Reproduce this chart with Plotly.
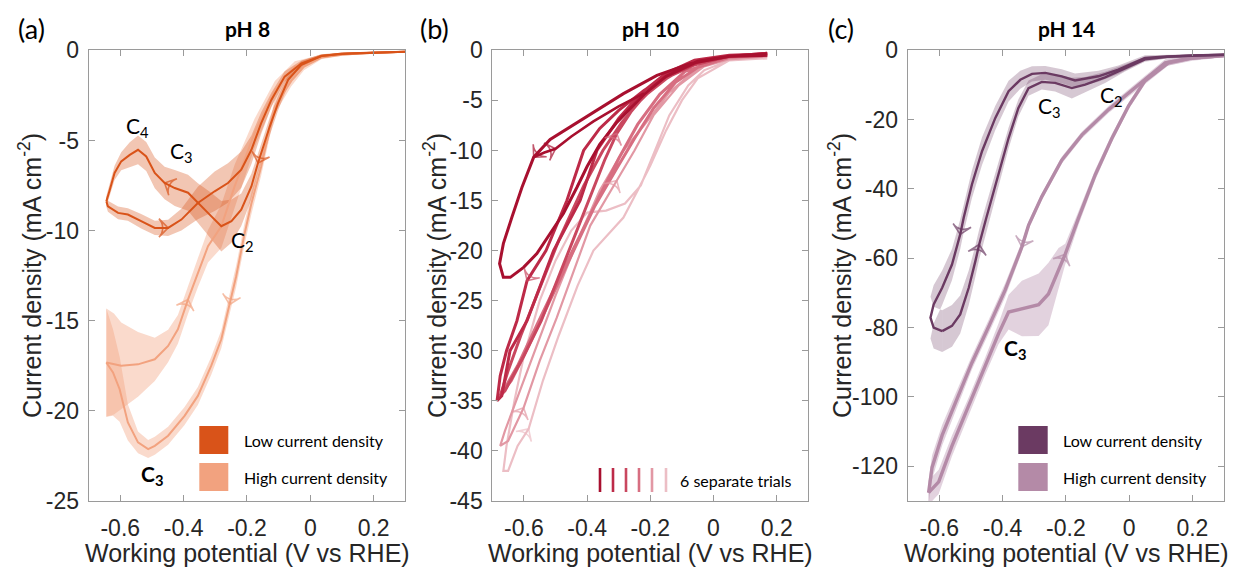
import plotly.graph_objects as go

W, H = 1235, 567

# ---------------- Panel (a) pH 8 ----------------
a_low_fwd_x = [0.30, 0.20, 0.10, 0.035, -0.028, -0.070, -0.102, -0.128, -0.165, -0.186, -0.218, -0.249, -0.281, -0.313, -0.355, -0.386, -0.428, -0.460, -0.491, -0.518, -0.544, -0.570, -0.597, -0.618, -0.633, -0.644]
a_low_fwd_y = [-0.08, -0.12, -0.20, -0.32, -0.80, -1.64, -2.95, -4.23, -6.25, -7.55, -8.84, -9.48, -9.76, -9.20, -8.47, -7.90, -7.64, -7.36, -6.80, -5.89, -5.52, -5.80, -6.16, -6.80, -7.73, -8.38]
a_low_fwd_sd = [0.05, 0.05, 0.05, 0.10, 0.20, 0.30, 0.40, 0.50, 0.60, 0.70, 0.90, 1.20, 1.40, 1.30, 1.10, 1.00, 1.00, 0.90, 0.85, 0.80, 0.80, 0.70, 0.50, 0.40, 0.35, 0.30]
a_low_ret_x = [-0.644, -0.639, -0.607, -0.576, -0.534, -0.491, -0.449, -0.407, -0.355, -0.302, -0.260, -0.218, -0.186, -0.155, -0.123, -0.081, -0.028, 0.035, 0.10, 0.20, 0.30]
a_low_ret_y = [-8.38, -8.65, -9.02, -9.11, -9.48, -9.85, -9.85, -9.39, -8.47, -7.82, -7.36, -6.62, -5.52, -4.04, -2.75, -1.46, -0.72, -0.32, -0.18, -0.12, -0.08]
a_low_ret_sd = [0.30, 0.30, 0.35, 0.35, 0.40, 0.40, 0.45, 0.60, 0.90, 1.10, 1.10, 1.00, 0.80, 0.60, 0.40, 0.30, 0.15, 0.10, 0.05, 0.05, 0.05]

a_high_fwd_x = [0.30, 0.20, 0.10, 0.035, -0.020, -0.060, -0.112, -0.155, -0.186, -0.207, -0.234, -0.255, -0.281, -0.313, -0.355, -0.397, -0.449, -0.491, -0.512, -0.544, -0.576, -0.602, -0.623, -0.644]
a_high_fwd_y = [-0.08, -0.12, -0.25, -0.40, -0.90, -1.70, -3.12, -6.44, -8.50, -10.13, -12.53, -14.10, -16.03, -17.51, -19.17, -20.28, -21.38, -21.94, -22.12, -21.75, -20.64, -18.80, -17.87, -17.32]
a_high_fwd_sd = [0.05, 0.05, 0.05, 0.10, 0.20, 0.30, 0.40, 0.50, 0.60, 0.60, 0.60, 0.50, 0.50, 0.50, 0.50, 0.50, 0.50, 0.50, 0.50, 0.60, 1.00, 1.80, 2.40, 3.00]
a_high_ret_x = [-0.644, -0.620, -0.597, -0.544, -0.491, -0.449, -0.418, -0.386, -0.355, -0.323, -0.281, -0.239, -0.176, -0.112, -0.049, 0.035, 0.10, 0.20, 0.30]
a_high_ret_y = [-17.32, -17.40, -17.50, -17.42, -17.14, -16.40, -15.48, -13.82, -12.34, -10.87, -9.76, -7.55, -4.60, -2.20, -0.91, -0.35, -0.20, -0.12, -0.08]
a_high_ret_sd = [3.0, 2.8, 2.4, 1.8, 1.2, 0.9, 0.8, 0.8, 0.8, 0.9, 1.2, 1.2, 0.8, 0.5, 0.3, 0.1, 0.05, 0.05, 0.05]

# ---------------- Panel (b) pH 10, six trials ----------------
b1_fwd_x = [0.17, 0.05, -0.074, -0.179, -0.285, -0.39, -0.45, -0.517, -0.569, -0.606, -0.638, -0.665, -0.677, -0.665]
b1_fwd_y = [-0.35, -0.6, -1.33, -2.5, -4.33, -6.4, -7.6, -8.9, -10.67, -13.67, -16.67, -19.3, -21.3, -22.67]
b1_ret_x = [-0.665, -0.643, -0.601, -0.559, -0.517, -0.475, -0.432, -0.40, -0.36, -0.306, -0.22, -0.15, -0.05, 0.05, 0.17]
b1_ret_y = [-22.67, -22.67, -21.67, -20.3, -18.3, -16.3, -13.67, -11.6, -9.4, -7.2, -4.4, -2.6, -1.1, -0.6, -0.5]
b1_extra_x = [-0.569, -0.535, -0.50, -0.45, -0.38, -0.30, -0.22]
b1_extra_y = [-10.67, -10.2, -9.83, -8.6, -7.1, -5.6, -4.3]

b2_fwd_x = [0.17, 0.05, -0.05, -0.15, -0.22, -0.30, -0.36, -0.411, -0.464, -0.53, -0.59, -0.622, -0.655, -0.675, -0.685]
b2_fwd_y = [-0.3, -0.6, -1.2, -2.6, -4.0, -6.0, -7.8, -10.0, -15.0, -20.0, -23.0, -27.0, -30.0, -32.5, -35.0]
b2_ret_x = [-0.685, -0.67, -0.644, -0.59, -0.506, -0.422, -0.369, -0.30, -0.23, -0.15, -0.06, 0.05, 0.17]
b2_ret_y = [-35.0, -34.5, -30.0, -27.0, -20.0, -15.0, -10.0, -6.8, -4.3, -2.3, -1.0, -0.5, -0.35]

b3_fwd_x = [0.17, 0.05, -0.05, -0.14, -0.22, -0.29, -0.35, -0.41, -0.49, -0.56, -0.61, -0.65, -0.675]
b3_fwd_y = [-0.3, -0.6, -1.3, -2.6, -4.6, -7.2, -10.0, -13.5, -19.0, -24.5, -28.5, -32.0, -34.5]
b3_ret_x = [-0.675, -0.66, -0.60, -0.545, -0.47, -0.40, -0.345, -0.306, -0.25, -0.18, -0.09, 0.05, 0.17]
b3_ret_y = [-34.5, -34.0, -30.5, -27.0, -21.0, -15.5, -11.0, -8.3, -5.6, -3.4, -1.7, -0.6, -0.45]

b4_fwd_x = [0.17, 0.05, -0.04, -0.12, -0.19, -0.25, -0.31, -0.38, -0.44, -0.50, -0.56, -0.62, -0.665]
b4_fwd_y = [-0.35, -0.7, -1.5, -3.2, -5.8, -8.8, -12.0, -15.8, -19.6, -23.5, -27.5, -31.5, -34.0]
b4_ret_x = [-0.665, -0.64, -0.60, -0.54, -0.48, -0.42, -0.36, -0.30, -0.24, -0.17, -0.09, 0.05, 0.17]
b4_ret_y = [-34.0, -33.0, -30.5, -26.5, -22.5, -18.5, -14.5, -10.8, -7.4, -4.4, -2.1, -0.7, -0.5]

b5_fwd_x = [0.17, 0.05, -0.05, -0.14, -0.22, -0.285, -0.36, -0.43, -0.50, -0.56, -0.62, -0.66, -0.675]
b5_fwd_y = [-0.45, -0.8, -1.8, -4.2, -7.5, -10.0, -14.0, -19.0, -24.5, -29.5, -34.5, -38.0, -39.5]
b5_ret_x = [-0.675, -0.65, -0.601, -0.55, -0.496, -0.443, -0.39, -0.306, -0.25, -0.19, -0.11, -0.03, 0.05, 0.17]
b5_ret_y = [-39.5, -39.0, -35.7, -31.0, -26.7, -22.0, -17.5, -13.0, -10.0, -6.5, -3.5, -1.6, -0.9, -0.6]

b6_fwd_x = [0.17, 0.05, -0.03, -0.08, -0.14, -0.19, -0.23, -0.28, -0.34, -0.40, -0.45, -0.50, -0.55, -0.60, -0.63, -0.655, -0.665]
b6_fwd_y = [-0.7, -1.0, -2.0, -3.5, -6.5, -10.5, -13.5, -15.3, -16.0, -16.2, -18.0, -21.0, -25.0, -30.5, -35.0, -39.5, -42.0]
b6_ret_x = [-0.665, -0.65, -0.62, -0.585, -0.54, -0.49, -0.43, -0.38, -0.33, -0.285, -0.24, -0.20, -0.15, -0.10, -0.05, 0.05, 0.17]
b6_ret_y = [-42.0, -42.0, -39.5, -37.8, -33.0, -28.5, -23.5, -20.0, -18.3, -16.7, -14.0, -11.5, -8.0, -5.0, -2.8, -1.0, -0.8]

# ---------------- Panel (c) pH 14 ----------------
c_low_fwd_x = [0.30, 0.20, 0.12, 0.05, -0.034, -0.097, -0.171, -0.213, -0.265, -0.307, -0.344, -0.381, -0.423, -0.465, -0.497, -0.523, -0.534, -0.560, -0.591, -0.618, -0.628, -0.618, -0.591]
c_low_fwd_y = [-1.3, -1.5, -1.8, -2.2, -5.6, -7.5, -8.7, -7.5, -6.5, -6.8, -8.5, -11.8, -19.5, -29.1, -38.7, -48.3, -53.1, -61.8, -68.5, -73.3, -77.1, -80.0, -81.0]
c_low_fwd_sd = [0.3, 0.4, 0.6, 0.8, 1.2, 1.6, 2.0, 2.0, 2.0, 2.2, 2.6, 3.0, 3.5, 4.0, 4.0, 4.2, 4.3, 4.5, 5.0, 5.5, 6.0, 6.0, 6.0]
c_low_ret_x = [-0.591, -0.560, -0.534, -0.507, -0.486, -0.474, -0.452, -0.413, -0.381, -0.350, -0.318, -0.276, -0.234, -0.181, -0.139, -0.076, -0.013, 0.05, 0.12, 0.20, 0.30]
c_low_ret_y = [-81.0, -79.5, -76.2, -68.5, -60.8, -56.0, -48.5, -35.8, -25.3, -16.6, -10.9, -9.1, -9.4, -10.9, -9.9, -7.8, -5.1, -2.6, -1.9, -1.5, -1.3]
c_low_ret_sd = [6.0, 6.0, 5.5, 5.0, 4.5, 4.3, 4.0, 3.5, 3.0, 2.5, 2.2, 2.2, 2.5, 3.0, 2.2, 1.6, 1.0, 0.7, 0.5, 0.4, 0.3]

c_high_fwd_x = [0.30, 0.20, 0.114, 0.019, -0.065, -0.149, -0.213, -0.276, -0.318, -0.339, -0.392, -0.444, -0.497, -0.549, -0.591, -0.623, -0.634]
c_high_fwd_y = [-1.5, -2.2, -3.6, -10.9, -17.1, -24.4, -31.7, -42.2, -50.5, -56.7, -69.2, -79.7, -90.1, -101.6, -111.0, -120.3, -127.6]
c_high_fwd_sd = [0.5, 0.8, 1.0, 1.0, 1.0, 1.0, 1.0, 1.0, 1.2, 1.5, 2.0, 2.0, 2.0, 2.5, 3.0, 3.5, 3.5]
c_high_ret_x = [-0.634, -0.602, -0.560, -0.507, -0.455, -0.413, -0.381, -0.339, -0.286, -0.255, -0.223, -0.202, -0.160, -0.107, -0.055, -0.002, 0.05, 0.124, 0.20, 0.30]
c_high_ret_y = [-127.6, -124.5, -114.1, -102.6, -91.1, -81.8, -75.5, -74.5, -73.4, -70.3, -63.0, -58.8, -48.4, -35.9, -25.5, -16.1, -8.8, -3.6, -2.2, -1.5]
c_high_ret_sd = [3.5, 3.5, 3.0, 2.5, 2.5, 3.0, 5.0, 8.0, 9.0, 9.0, 6.0, 3.0, 2.0, 1.5, 1.2, 1.0, 1.0, 0.8, 0.6, 0.5]

# ticks
x_tickvals = [-0.6, -0.4, -0.2, 0, 0.2]
x_ticktext = ["-0.6", "-0.4", "-0.2", "0", "0.2"]
ya_tickvals = [0, -5, -10, -15, -20, -25]
yb_tickvals = [0, -5, -10, -15, -20, -25, -30, -35, -40, -45]
yc_tickvals = [0, -20, -40, -60, -80, -100, -120]

# colours
A_LOW, A_HIGH = "#D95319", "#F2A27F"
A_LOW_BAND, A_HIGH_BAND = "rgba(217,83,25,0.33)", "rgba(242,162,127,0.40)"
C_LOW, C_HIGH = "#6B3A62", "#B48AA7"
C_LOW_BAND, C_HIGH_BAND = "rgba(107,58,98,0.28)", "rgba(180,138,167,0.38)"
B_COLORS = ["#A8102F", "#BD2A48", "#C9475F", "#D76E81", "#E298A4", "#ECBEC5"]

SANS = "Liberation Sans, Arial, sans-serif"
TICK_FONT = dict(family=SANS, size=23, color="#262626")
LAB_FONT = "Lato, sans-serif"

fig = go.Figure()


def band(x, y, sd, color, ax):
    up = [yy + s for yy, s in zip(y, sd)]
    lo = [yy - s for yy, s in zip(y, sd)]
    fig.add_trace(go.Scatter(x=list(x) + list(x)[::-1], y=up + lo[::-1], fill="toself",
                             fillcolor=color, line=dict(width=0), mode="lines",
                             hoverinfo="skip", showlegend=False, xaxis="x" + ax, yaxis="y" + ax))


def line(x, y, color, width, ax):
    fig.add_trace(go.Scatter(x=x, y=y, mode="lines", line=dict(color=color, width=width),
                             showlegend=False, xaxis="x" + ax, yaxis="y" + ax))


def arrow(x, y, i, color, ax, size=13):
    fig.add_trace(go.Scatter(x=[x[i - 1], x[i]], y=[y[i - 1], y[i]], mode="markers",
                             marker=dict(symbol="arrow-wide-open", size=[0, size], angleref="previous",
                                         color=color, line=dict(color=color, width=1.6)),
                             showlegend=False, xaxis="x" + ax, yaxis="y" + ax))


# panel a
band(a_high_fwd_x, a_high_fwd_y, a_high_fwd_sd, A_HIGH_BAND, "")
band(a_high_ret_x, a_high_ret_y, a_high_ret_sd, A_HIGH_BAND, "")
band(a_low_fwd_x, a_low_fwd_y, a_low_fwd_sd, A_LOW_BAND, "")
band(a_low_ret_x, a_low_ret_y, a_low_ret_sd, A_LOW_BAND, "")
line(a_high_fwd_x, a_high_fwd_y, A_HIGH, 2.0, "")
line(a_high_ret_x, a_high_ret_y, A_HIGH, 2.0, "")
line(a_low_fwd_x, a_low_fwd_y, A_LOW, 2.0, "")
line(a_low_ret_x, a_low_ret_y, A_LOW, 2.0, "")
arrow(a_low_fwd_x, a_low_fwd_y, 8, A_LOW, "")
arrow(a_low_fwd_x, a_low_fwd_y, 17, A_LOW, "")
arrow(a_low_ret_x, a_low_ret_y, 6, A_LOW, "")
arrow(a_high_fwd_x, a_high_fwd_y, 11, A_HIGH, "")
arrow(a_high_ret_x, a_high_ret_y, 7, A_HIGH, "")

# panel b (lightest first)
b_trials = [
    (b1_fwd_x, b1_fwd_y, b1_ret_x, b1_ret_y, 3.0),
    (b2_fwd_x, b2_fwd_y, b2_ret_x, b2_ret_y, 3.0),
    (b3_fwd_x, b3_fwd_y, b3_ret_x, b3_ret_y, 3.0),
    (b4_fwd_x, b4_fwd_y, b4_ret_x, b4_ret_y, 3.0),
    (b5_fwd_x, b5_fwd_y, b5_ret_x, b5_ret_y, 2.2),
    (b6_fwd_x, b6_fwd_y, b6_ret_x, b6_ret_y, 2.2),
]
for k in range(5, -1, -1):
    fx, fy, rx, ry, w = b_trials[k]
    line(fx + rx, fy + ry, B_COLORS[k], w, "2")
line(b1_extra_x, b1_extra_y, B_COLORS[0], 2.6, "2")
arrow(b1_fwd_x, b1_fwd_y, 8, B_COLORS[0], "2")
arrow(b1_extra_x, b1_extra_y, 2, B_COLORS[0], "2")
arrow(b2_fwd_x, b2_fwd_y, 10, B_COLORS[2], "2")
arrow(b3_ret_x, b3_ret_y, 7, B_COLORS[3], "2")
arrow(b5_ret_x, b5_ret_y, 7, B_COLORS[4], "2")
arrow(b5_ret_x, b5_ret_y, 2, B_COLORS[4], "2")
arrow(b6_ret_x, b6_ret_y, 3, B_COLORS[5], "2")

# panel c
band(c_high_fwd_x, c_high_fwd_y, c_high_fwd_sd, C_HIGH_BAND, "3")
band(c_high_ret_x, c_high_ret_y, c_high_ret_sd, C_HIGH_BAND, "3")
band(c_low_fwd_x, c_low_fwd_y, c_low_fwd_sd, C_LOW_BAND, "3")
band(c_low_ret_x, c_low_ret_y, c_low_ret_sd, C_LOW_BAND, "3")
line(c_high_fwd_x, c_high_fwd_y, C_HIGH, 3.4, "3")
line(c_high_ret_x, c_high_ret_y, C_HIGH, 3.4, "3")
line(c_low_fwd_x, c_low_fwd_y, C_LOW, 2.4, "3")
line(c_low_ret_x, c_low_ret_y, C_LOW, 2.4, "3")
arrow(c_low_fwd_x, c_low_fwd_y, 16, C_LOW, "3")
arrow(c_low_ret_x, c_low_ret_y, 5, C_LOW, "3")
arrow(c_high_fwd_x, c_high_fwd_y, 9, C_HIGH, "3")
arrow(c_high_ret_x, c_high_ret_y, 11, C_HIGH, "3")


def px_x(p):
    return p / W


def px_y(p):
    return 1 - p / H


Y_DOM = [px_y(501), px_y(50.3)]
X_DOMS = [[px_x(88.6), px_x(405.3)], [px_x(492.3), px_x(808.3)], [px_x(907.7), px_x(1224)]]

common_x = dict(range=[-0.7, 0.3], tickvals=x_tickvals, ticktext=x_ticktext, ticks="inside",
                ticklen=6, tickcolor="#9A9A9A", showline=True, linecolor="#9A9A9A", linewidth=1,
                mirror="ticks", showgrid=False, zeroline=False, tickfont=TICK_FONT,
                ticklabelstandoff=6, automargin=False)
common_y = dict(ticks="inside", ticklen=6, tickcolor="#9A9A9A", showline=True, linecolor="#9A9A9A",
                linewidth=1, mirror="ticks", showgrid=False, zeroline=False, tickfont=TICK_FONT,
                ticklabelstandoff=4, automargin=False)

layout = dict(width=W, height=H, margin=dict(l=0, r=0, t=0, b=0, autoexpand=False),
              plot_bgcolor="white", paper_bgcolor="white", showlegend=False)
yticks = [ya_tickvals, yb_tickvals, yc_tickvals]
yranges = [[-25, 0], [-45, 0], [-130, 0]]
for i, suf in enumerate(["", "2", "3"]):
    layout["xaxis" + suf] = dict(common_x, domain=X_DOMS[i], anchor="y" + suf)
    layout["yaxis" + suf] = dict(common_y, domain=Y_DOM, anchor="x" + suf, range=yranges[i],
                                 tickvals=yticks[i], ticktext=[str(v) for v in yticks[i]])
fig.update_layout(**layout)

ann = []


def text(s, x, y, size, family, color="#000000", angle=0, xanchor="center", xref="paper", yref="paper"):
    ann.append(dict(text=s, x=x, y=y, xref=xref, yref=yref, showarrow=False, xanchor=xanchor,
                    yanchor="middle", textangle=angle, font=dict(size=size, family=family, color=color)))


panel_labels = ["(a)", "(b)", "(c)"]
panel_titles = ["pH 8", "pH 10", "pH 14"]
label_px = [31, 434, 841]
title_px = [247, 650, 1066]
ytitle_px = [30, 435, 840]
for i in range(3):
    text(panel_labels[i], px_x(label_px[i]), px_y(28), 27, LAB_FONT)
    text("<b>" + panel_titles[i] + "</b>", px_x(title_px[i]), px_y(29), 21, LAB_FONT)
    text("Working potential (V vs RHE)", px_x(title_px[i]), px_y(553), 25, SANS, color="#262626")
    text("Current density (mA cm<sup>-2</sup>)", px_x(ytitle_px[i]), px_y(276), 25, SANS,
         color="#262626", angle=-90)

# peak labels (data coordinates)
text("C<sub>4</sub>", -0.546, -4.24, 21, LAB_FONT, xref="x", yref="y")
text("C<sub>3</sub>", -0.408, -5.63, 21, LAB_FONT, xref="x", yref="y")
text("C<sub>2</sub>", -0.213, -10.6, 21, LAB_FONT, xref="x", yref="y")
text("<b>C<sub>3</sub></b>", -0.501, -23.56, 21, LAB_FONT, xref="x", yref="y")
text("C<sub>3</sub>", -0.253, -16.3, 21, LAB_FONT, xref="x3", yref="y3")
text("C<sub>2</sub>", -0.057, -13.3, 21, LAB_FONT, xref="x3", yref="y3")
text("<b>C<sub>3</sub></b>", -0.362, -86.2, 21, LAB_FONT, xref="x3", yref="y3")

# legends
shapes = []
legend_sq_px = [(199.3, 228.3, A_LOW, A_HIGH), (1018.3, 1047.7, C_LOW, C_HIGH)]
legend_txt_px = [241.7, 1061]
for (x0, x1, c1, c2), tx in zip(legend_sq_px, legend_txt_px):
    shapes.append(dict(type="rect", xref="paper", yref="paper", x0=px_x(x0), x1=px_x(x1),
                       y0=px_y(454), y1=px_y(426), fillcolor=c1, line=dict(width=0)))
    shapes.append(dict(type="rect", xref="paper", yref="paper", x0=px_x(x0), x1=px_x(x1),
                       y0=px_y(491), y1=px_y(463), fillcolor=c2, line=dict(width=0)))
    text("Low current density", px_x(tx), px_y(440), 16, LAB_FONT, xanchor="left")
    text("High current density", px_x(tx), px_y(477), 16, LAB_FONT, xanchor="left")

bar_px = [600, 613, 626, 639, 652, 666]
for bx, col in zip(bar_px, B_COLORS):
    shapes.append(dict(type="line", xref="paper", yref="paper", x0=px_x(bx), x1=px_x(bx),
                       y0=px_y(492), y1=px_y(468), line=dict(color=col, width=2.6)))
text("6 separate trials", px_x(678), px_y(480), 16, LAB_FONT, xanchor="left")

fig.update_layout(annotations=ann, shapes=shapes)
fig.write_html("out.html")
